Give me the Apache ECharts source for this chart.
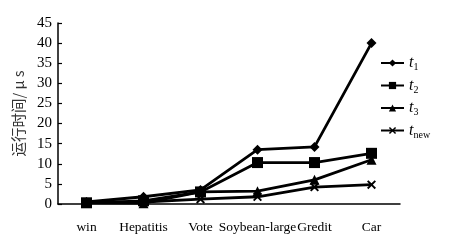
<!DOCTYPE html>
<html style="height: 100%">
<head>
	<meta charset="utf-8">
	<script src="https://cdn.jsdelivr.net/npm/echarts@6/dist/echarts.min.js"></script>
</head>
<body style="height: 100%; margin: 0; background: #fff">
	<div id="container" style="width: 456px; height: 242px"></div>
	<script type="text/javascript">
		let categories = ['win', 'Hepatitis', 'Vote', 'Soybean-large', 'Gredit', 'Car'];
		let t1 = [0.5, 1.8, 3.5, 13.5, 14.2, 40];
		let t2 = [0.3, 0.8, 3.0, 10.3, 10.3, 12.6];
		let t3 = [0.3, 0.2, 3.0, 3.2, 6.0, 11.0];
		let tNew = [0.4, 0.5, 1.2, 1.8, 4.2, 4.8];
		let seriesNames = ['t1', 't2', 't3', 'tnew'];
		let subs = { t1: '1', t2: '2', t3: '3', tnew: 'new' };

		let crossPath = 'path://M0,1.5L1.5,0L5,3.5L8.5,0L10,1.5L6.5,5L10,8.5L8.5,10L5,6.5L1.5,10L0,8.5L3.5,5Z';
		let serif = '"Liberation Serif", "DejaVu Serif", serif';

		let dom = document.getElementById('container');
		let myChart = echarts.init(dom);

		function makeSeries(name, data, symbol, size) {
			return {
				name: name,
				type: 'line',
				data: data,
				symbol: symbol,
				symbolSize: size,
				showAllSymbol: true,
				animation: false,
				lineStyle: { color: '#000', width: 2.8 },
				itemStyle: { color: '#000' }
			};
		}

		let option = {
			backgroundColor: '#fff',
			grid: { left: 58, right: 56, top: 23, bottom: 38 },
			legend: {
				orient: 'vertical',
				left: 375,
				top: 50,
				itemWidth: 23,
				itemHeight: 9,
				itemGap: 5,
				data: seriesNames,
				formatter: function (name) {
					return '{i|t}{s|' + subs[name] + '}';
				},
				textStyle: {
					color: '#000',
					rich: {
						i: { fontFamily: serif, fontStyle: 'italic', fontSize: 16, color: '#000' },
						s: { fontFamily: serif, fontSize: 10, color: '#000', padding: [9, 0, 0, 0] }
					}
				}
			},
			xAxis: {
				type: 'category',
				data: categories,
				boundaryGap: true,
				axisLine: { lineStyle: { color: '#000', width: 1.5 } },
				axisTick: { inside: true, length: 4, lineStyle: { color: '#000', width: 1.2 } },
				axisLabel: { color: '#000', fontFamily: serif, fontSize: 13.5, margin: 16, interval: 0 }
			},
			yAxis: {
				type: 'value',
				min: 0,
				max: 45,
				interval: 5,
				name: '运行时间/ μ s',
				nameLocation: 'middle',
				nameRotate: 90,
				nameGap: 31,
				nameTextStyle: { color: '#333', fontFamily: '"Noto Sans CJK SC"', fontSize: 14.5 },
				splitLine: { show: false },
				axisLine: { show: true, lineStyle: { color: '#000', width: 1.5 } },
				axisTick: { show: true, inside: true, length: 4, lineStyle: { color: '#000', width: 1.2 } },
				axisLabel: { color: '#000', fontFamily: serif, fontSize: 15, margin: 6 }
			},
			series: [
				makeSeries('t1', t1, 'diamond', 10),
				makeSeries('t2', t2, 'rect', 11),
				makeSeries('t3', t3, 'triangle', 10),
				makeSeries('tnew', tNew, crossPath, 9)
			]
		};

		myChart.setOption(option);
	</script>
</body>
</html>
